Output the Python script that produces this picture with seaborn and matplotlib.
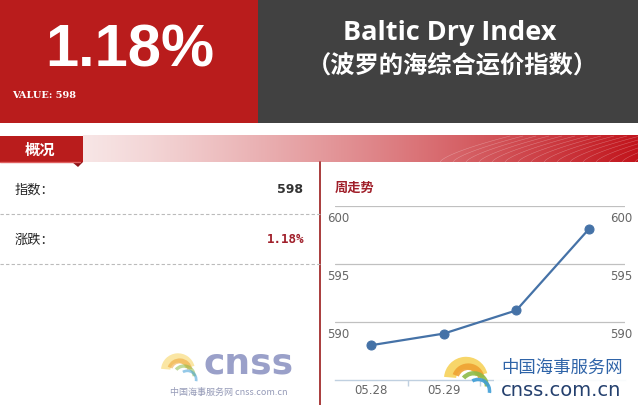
import numpy as np
import matplotlib
matplotlib.use("Agg")
import matplotlib.pyplot as plt
import matplotlib.patches as mpatches
from matplotlib.transforms import ScaledTranslation
import seaborn as sns

# DATA
dates = ["05.28", "05.29", "06.01", "06.02"]
bdi = [588, 589, 591, 598]
y_ticks = [600, 595, 590]
latest_value = 598
change_pct = "1.18%"

sns.set_theme(style="white")
plt.rcParams["font.family"] = ["Noto Sans CJK SC", "DejaVu Sans"]

RED = "#B91C1C"
DARK = "#414141"
W, H = 638, 406

fig = plt.figure(figsize=(W / 100, H / 100), dpi=100)
fig.patch.set_facecolor("white")

# background layer in pixel coords
bg = fig.add_axes([0, 0, 1, 1], zorder=0)
bg.set_xlim(0, W)
bg.set_ylim(H, 0)
bg.axis("off")

# header boxes
bg.add_patch(mpatches.Rectangle((0, 0), 258, 124, color=RED, lw=0))
bg.add_patch(mpatches.Rectangle((258, 0), W - 258, 124, color=DARK, lw=0))
bg.text(130, 51, change_pct, color="white", fontsize=43, fontweight="bold",
        family="Liberation Sans", ha="center", va="center")
bg.text(12, 96, "VALUE: %d" % latest_value, color="white", fontsize=7,
        fontweight="bold", family="DejaVu Serif", ha="left", va="center")
bg.text(450, 33, "Baltic Dry Index", color="white", fontsize=19.5,
        fontweight="bold", family="Open Sans", ha="center", va="center")
bg.text(452, 66, "（波罗的海综合运价指数）", color="white", fontsize=17.5,
        fontweight="bold", ha="center", va="center")

# gradient band
grad = np.linspace(0, 1, 256)
c0 = np.array([0.97, 0.90, 0.90])
c1 = np.array([0.76, 0.08, 0.11])
img = (c0[None, :] * (1 - grad[:, None] ** 1.2) + c1[None, :] * grad[:, None] ** 1.2)
bg.imshow(img[None, :, :], extent=(83, W, 163, 137), aspect="auto", zorder=1)
for k in range(16):
    t = np.linspace(0, 1, 40)
    xs = 440 + k * 13 + 70 * t
    ys = 163 - 26 * t ** 0.7
    bg.plot(xs, ys, color="white", lw=0.4, alpha=0.3, zorder=2)
bg.add_patch(mpatches.Rectangle((0, 137), 83, 26, color=RED, lw=0, zorder=3))
bg.add_patch(mpatches.Polygon([[72, 163], [83, 163], [78, 168]], color="#8E1418", lw=0, zorder=3))
bg.plot([0, 80], [163, 163], color="#E06060", lw=1, zorder=4)
bg.text(40, 150, "概况", color="white", fontsize=11, fontweight="bold",
        ha="center", va="center", zorder=5)

# left panel
bg.plot([320, 320], [163, H], color="#9B1B1B", lw=1.2)
bg.text(15, 190, "指数：", color="#222222", fontsize=9.5, ha="left", va="center")
bg.text(303, 190, str(latest_value), color="#333333", fontsize=9, fontweight="bold",
        family="DejaVu Sans", ha="right", va="center")
bg.plot([0, 320], [215, 215], color="#BBBBBB", lw=0.8, ls=(0, (3, 2)))
bg.text(15, 240, "涨跌：", color="#222222", fontsize=9.5, ha="left", va="center")
bg.text(304, 240, change_pct, color="#A01F2A", fontsize=9, fontweight="bold",
        family="DejaVu Sans Mono", ha="right", va="center")
bg.plot([0, 320], [265, 265], color="#BBBBBB", lw=0.8, ls=(0, (3, 2)))
bg.text(335, 188, "周走势", color="#A01F2A", fontsize=9.5, fontweight="bold",
        ha="left", va="center")

# chart
left, right, top, bottom = 335, 625, 207, 381
ax = fig.add_axes([left / W, (H - bottom) / H, (right - left) / W, (bottom - top) / H], zorder=2)
ax.patch.set_alpha(0)
x = np.arange(len(dates))
sns.lineplot(x=x, y=bdi, ax=ax, color="#4572A7", lw=1.6, marker="o",
             markersize=6.5, markeredgecolor="#4572A7")
ax.set_xlim(-0.5, len(dates) - 0.5)
ax.set_ylim(585, 600)
for v in y_ticks:
    ax.axhline(v, color="#C0C0C0", lw=0.9, zorder=0)
for s in ["top", "left", "right"]:
    ax.spines[s].set_visible(False)
ax.spines["bottom"].set_color("#C0D0E0")
ax.spines["bottom"].set_linewidth(1)
ax.set_yticks([])
ax.set_xticks(x)
ax.set_xticklabels(dates, color="#666666", fontsize=8.5, family="DejaVu Sans")
# the last labels sit under the watermark in the original
for lab in ax.get_xticklabels()[2:]:
    lab.set_visible(False)
ax.set_xticks(x[:-1] + 0.5, minor=True)
ax.tick_params(axis="x", which="major", length=0, pad=2)
ax.tick_params(axis="x", which="minor", length=4, color="#C0D0E0", bottom=True)
ax.grid(False)
off = ScaledTranslation(0, -0.11, fig.dpi_scale_trans)
for v in y_ticks:
    ax.text(-0.028, v, str(v), transform=ax.get_yaxis_transform() + off, color="#666666",
            fontsize=8.5, family="DejaVu Sans", ha="left", va="center")
    ax.text(1.024, v, str(v), transform=ax.get_yaxis_transform() + off, color="#666666",
            fontsize=8.5, family="DejaVu Sans", ha="right", va="center")
ax.set_xlabel("")
ax.set_ylabel("")

# watermarks
ov = fig.add_axes([0, 0, 1, 1], zorder=5)
ov.set_xlim(0, W)
ov.set_ylim(H, 0)
ov.axis("off")
ov.patch.set_alpha(0)


def logo(cx, cy, r, alpha):
    # wave-like logo: broad yellow/orange crest, green and blue tips below
    # (y axis is inverted here, so angles are negated to keep the crest on top)
    ov.add_patch(mpatches.Wedge((cx, cy + r * 0.9), r, -175, -15, width=r * 0.55,
                                color="#F7D25A", alpha=alpha, lw=0))
    ov.add_patch(mpatches.Wedge((cx + r * 0.1, cy + r * 0.95), r * 0.75, -160, -10, width=r * 0.3,
                                color="#EFA232", alpha=alpha, lw=0))
    ov.add_patch(mpatches.Wedge((cx + r * 0.35, cy + r * 1.25), r * 0.7, -140, 0, width=r * 0.2,
                                color="#8DBB48", alpha=alpha, lw=0))
    ov.add_patch(mpatches.Wedge((cx + r * 0.55, cy + r * 1.45), r * 0.6, -120, 10, width=r * 0.16,
                                color="#3F9ED6", alpha=alpha, lw=0))


logo(178, 356, 17, 0.55)
ov.text(249, 364, "cnss", color="#8890C0", fontsize=26, fontweight="bold",
        family="DejaVu Sans", ha="center", va="center", alpha=0.85)
ov.text(229, 392, "中国海事服务网 cnss.com.cn", color="#8A90B0", fontsize=6.5,
        ha="center", va="center", alpha=0.9)

ov.add_patch(mpatches.Rectangle((494, 380), 138, 24, color="white", alpha=0.92, lw=0))
logo(466, 360, 22, 0.9)
ov.text(562, 368, "中国海事服务网", color="#2F64A8", fontsize=12.5,
        ha="center", va="center")
ov.text(561, 391, "cnss.com.cn", color="#24406E", fontsize=14,
        family="DejaVu Sans", ha="center", va="center")

fig.savefig("out.png", dpi=100, facecolor="white")
